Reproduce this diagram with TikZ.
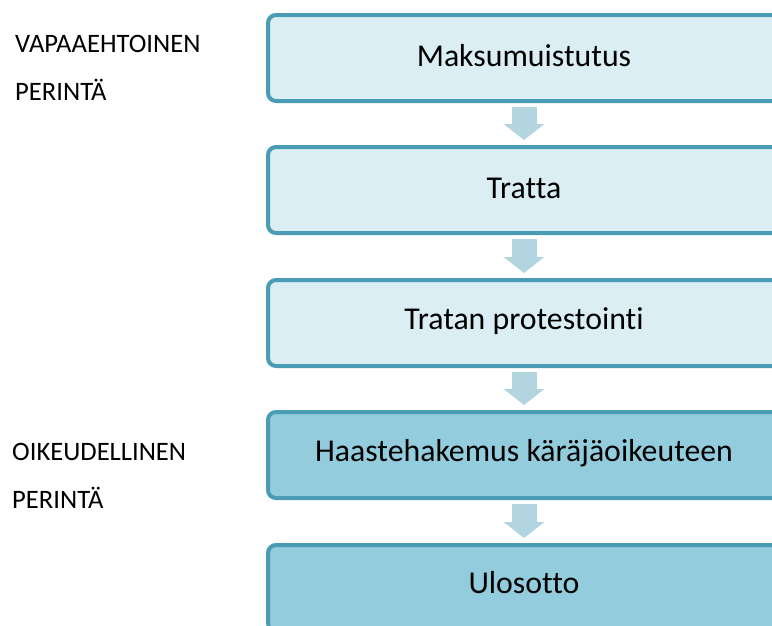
\documentclass[tikz,border=0pt]{standalone}
\usepackage{fontspec}
\setmainfont{Carlito}[Ligatures=NoCommon]
\usetikzlibrary{arrows.meta,calc}
\definecolor{edgeblue}{HTML}{4A9BB4}
\definecolor{paleblue}{HTML}{DAEEF3}
\definecolor{midblue}{HTML}{93CDDD}
\definecolor{arrowblue}{HTML}{B2D5E0}
\begin{document}
\begin{tikzpicture}[x=1pt,y=-1pt,
  stepbox/.style={draw=edgeblue, line width=4pt, rounded corners=8pt,
    minimum width=560pt, minimum height=86pt, anchor=north west,
    inner sep=0pt},
  steptext/.style={font=\fontsize{31.8}{36}\selectfont, anchor=center},
  light/.style={stepbox, fill=paleblue},
  dark/.style={stepbox, fill=midblue},
  flow/.style={draw=arrowblue, line width=25pt,
    -{Triangle[width=40pt,length=16pt,fill=arrowblue]}},
  sidelabel/.style={font=\fontsize{26.6}{30}\selectfont, anchor=west, inner sep=0pt}]
\useasboundingbox (0,0) rectangle (772,625);
\clip (0,0) rectangle (772,625);

% process steps
\node[light] (b1) at (266,13) {};
\node[light] (b2) at (266,145) {};
\node[light] (b3) at (266,278) {};
\node[dark]  (b4) at (266,410) {};
\node[dark]  (b5) at (266,543) {};

\node[steptext] (t1) at (524,56) {Maksumuistutus};
\node[steptext] (t2) at (524,188) {Tratta};
\node[steptext] (t3) at (524,321) {Tratan protestointi};
\node[steptext] (t4) at (524,453) {Haastehakemus käräjäoikeuteen};
\node[steptext] (t5) at (524,583) {Ulosotto};

% arrows between steps
\foreach \a/\b in {1/2,2/3,3/4,4/5}{
  \draw[flow] ($(b\a.south -| t\a)+(0,4)$) -- ($(b\b.north -| t\a)+(0,-5)$);
}

% phase labels
\node[sidelabel] (l1) at (15,44) {VAPAAEHTOINEN};
\node[sidelabel] (l2) at (15,90) {PERINTÄ};
\node[sidelabel] (l3) at (12,452) {OIKEUDELLINEN};
\node[sidelabel] (l4) at (12,498) {PERINTÄ};
\end{tikzpicture}
\end{document}
